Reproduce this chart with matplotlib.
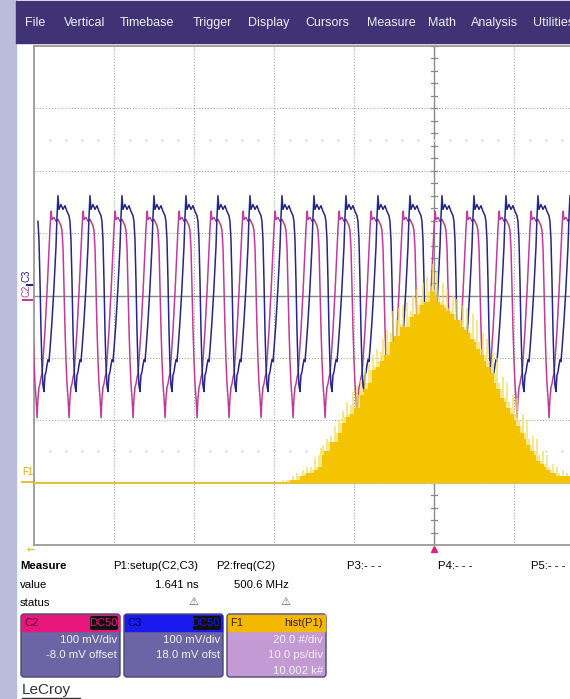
import numpy as np
import matplotlib
matplotlib.use("Agg")
import matplotlib.pyplot as plt
from matplotlib.patches import Rectangle, FancyBboxPatch

plt.rcParams['font.family'] = ['Liberation Sans', 'DejaVu Sans']

# --- scope settings ---
NS_PER_DIV = 5.0
C2_MV_PER_DIV, C2_OFFSET_MV = 100.0, -8.0
C3_MV_PER_DIV, C3_OFFSET_MV = 100.0, 18.0
HIST_COUNT_PER_DIV, HIST_PS_PER_DIV, HIST_CENTER_PS = 20.0, 10.0, 1641.0

# one period of each channel, time (ns) relative to the trough, level in mV
C2_SHAPE_T = [-0.5, -0.4375, -0.375, -0.3125, -0.25, -0.1875, -0.125, -0.0625, 0.0,
              0.0625, 0.125, 0.1875, 0.25, 0.3125, 0.375, 0.5, 0.625, 0.75, 0.8125,
              0.875, 0.9375, 1.0625, 1.1875, 1.3125, 1.4375]
C2_SHAPE_MV = [120, 111, 82, 18, -47, -98, -135, -156, -188, -156, -139, -133, -123,
               -117, -95, -47, 14, 82, 117, 143, 130, 133, 127, 130, 123]
C3_SHAPE_T = [-0.3125, -0.25, -0.1875, -0.125, -0.0625, 0.0, 0.0625, 0.125, 0.1875,
              0.25, 0.3125, 0.375, 0.4375, 0.5625, 0.6875, 0.8125, 0.875, 0.9375, 1.0,
              1.125, 1.25, 1.375, 1.5, 1.625]
C3_SHAPE_MV = [101, 72, 8, -72, -129, -162, -172, -146, -141, -130, -121, -124, -105,
               -60, -5, 59, 107, 142, 120, 128, 120, 126, 117, 110]

# trough times of each cycle (ns)
C2_TROUGHS = [-24.81, -22.81, -20.81, -18.81, -16.81, -14.81, -12.81, -10.81, -8.81,
              -6.81, -4.81, -2.81, -0.81, 1.19, 3.19, 5.19, 7.19, 9.19]
C3_TROUGHS = [-24.44, -22.44, -20.44, -18.44, -16.44, -14.44, -12.44, -10.44, -8.44,
              -6.44, -4.44, -2.44, -0.44, 1.56, 3.56, 5.56, 7.56, 9.56]

# hist(P1): setup time histogram, 0.25 ps bins
HIST_START_PS, HIST_BIN_PS = 1621.75, 0.25
HIST_COUNTS = [
    0, 1, 0, 1, 1, 1, 2, 1, 3, 2, 2, 4, 3, 5, 3, 5, 4, 8, 5, 9,
    11, 12, 10, 14, 13, 15, 13, 18, 16, 20, 19, 23, 21, 26, 22, 25, 29, 24, 31, 28,
    33, 30, 36, 32, 38, 36, 41, 37, 43, 39, 42, 46, 41, 49, 45, 48, 55, 47, 52, 56,
    51, 57, 50, 58, 53, 55, 60, 54, 62, 57, 59, 64, 58, 66, 61, 63, 70, 62, 68, 60,
    58, 64, 57, 62, 56, 55, 60, 54, 59, 52, 52, 57, 50, 56, 49, 48, 54, 46, 52, 45,
    43, 48, 41, 46, 39, 37, 42, 35, 40, 32, 30, 34, 27, 32, 26, 24, 28, 22, 27, 20,
    18, 22, 16, 20, 14, 12, 15, 10, 14, 9, 7, 10, 6, 9, 5, 4, 6, 3, 5, 3,
    2, 4, 2, 3, 2]

MENU = ["File", "Vertical", "Timebase", "Trigger", "Display", "Cursors", "Measure",
        "Math", "Analysis", "Utilities"]
MENU_X = [25, 64, 120, 193, 248, 305, 367, 428, 471, 533]

PARAMS = ["P1:setup(C2,C3)", "P2:freq(C2)", "P3:- - -", "P4:- - -", "P5:- - -"]
PARAM_X = [113, 216, 347, 438, 531]
VALUES = ["1.641 ns", "500.6 MHz"]
VALUE_X = [199, 289]

W, H = 570, 699
fig = plt.figure(figsize=(W / 100, H / 100), dpi=100)

# background layer in pixel coordinates
bg = fig.add_axes([0, 0, 1, 1])
bg.set_xlim(0, W)
bg.set_ylim(H, 0)
bg.axis('off')
bg.add_patch(Rectangle((0, 0), W, H, color='white'))
bg.add_patch(Rectangle((0, 0), 16, H, color='#b9bddb'))
bg.add_patch(Rectangle((16, 1), W - 16, 42, color='#3f3375'))
for name, x in zip(MENU, MENU_X):
    bg.text(x, 23, name, color='#eeeef6', fontsize=9, va='center', ha='left')

# graticule: 10 x 8 divisions, 80 x 62.4 px
L, T, B = 34, 46, 545
ax = fig.add_axes([L / W, 1 - B / H, 800 / W, (B - T) / H])
ax.set_xlim(-5 * NS_PER_DIV, 5 * NS_PER_DIV)
ax.set_ylim(-4, 4)
ax.set_xticks([])
ax.set_yticks([])
for s in ax.spines.values():
    s.set_color('#9a9a9a')
    s.set_linewidth(1.3)
grid_kw = dict(color='#a4a4a4', lw=0.8, ls=(0, (1, 1.6)), zorder=1)
for i in range(-4, 5):
    if i != 0:
        ax.axvline(i * NS_PER_DIV, **grid_kw)
for j in range(-3, 4):
    if j != 0:
        ax.axhline(j, **grid_kw)
ax.axvline(0, color='#8a8a8a', lw=1.0, zorder=1)
ax.axhline(0, color='#8a8a8a', lw=1.0, zorder=1)
for k in np.arange(-4, 4.01, 0.2):
    ax.plot([-0.2, 0.2], [k, k], color='#8a8a8a', lw=0.9, zorder=1)
# faint dotted rows
dots = np.arange(-24, 25, 1.0)
for yrow in (2.5, -2.5):
    ax.plot(dots, np.full_like(dots, yrow), ls='none', marker='o', ms=1.0,
            color='#e0e0e0', zorder=1)


def trace(troughs, shape_t, shape_mv, offset, scale):
    t = np.concatenate([tr + np.asarray(shape_t) for tr in troughs])
    v = np.concatenate([np.asarray(shape_mv, float) for _ in troughs])
    return t, (v + offset) / scale


t2, y2 = trace(C2_TROUGHS, C2_SHAPE_T, C2_SHAPE_MV, C2_OFFSET_MV, C2_MV_PER_DIV)
t3, y3 = trace(C3_TROUGHS, C3_SHAPE_T, C3_SHAPE_MV, C3_OFFSET_MV, C3_MV_PER_DIV)
ax.plot(t2, y2, color='#c23c96', lw=1.1, zorder=3)
ax.plot(t3, y3, color='#26268a', lw=1.1, zorder=4)

# histogram overlay on its own scale
hax = fig.add_axes(ax.get_position())
hax.patch.set_visible(False)
hax.axis('off')
hax.set_xlim(HIST_CENTER_PS - 5 * HIST_PS_PER_DIV, HIST_CENTER_PS + 5 * HIST_PS_PER_DIV)
hax.set_ylim(-1 * HIST_COUNT_PER_DIV, 7 * HIST_COUNT_PER_DIV)
counts = np.array(HIST_COUNTS, float)
edges = HIST_START_PS + HIST_BIN_PS * np.arange(len(counts) + 1)
# solid body = local minimum of neighbouring bins, taller bins show as pale spikes
padded = np.r_[counts[:2], counts, counts[-2:]]
core = np.min(np.vstack([padded[i:i + len(counts)] for i in range(5)]), axis=0)
hax.axhline(0, color='#e6c23a', lw=1.5)
hax.stairs(counts, edges, fill=True, color='#f6dc58', alpha=0.7, lw=0)
hax.stairs(core, edges, fill=True, color='#f5c400', lw=0)

# channel labels and ground markers at left
bg.text(27, 276, "C3", color='#26268a', fontsize=7, rotation=90, ha='center', va='center')
bg.text(27, 291, "C2", color='#c23c96', fontsize=7, rotation=90, ha='center', va='center')
bg.plot([27, 33], [285, 285], color='#26268a', lw=1.5)
bg.plot([23, 33], [300, 300], color='#c23c96', lw=1.5)
bg.text(22, 472, "F1", color='#e0b000', fontsize=7, ha='left', va='center')
bg.plot([22, 33], [482, 482], color='#e6c23a', lw=1.5)

# markers below the grid
bg.plot([434], [549], marker='^', ms=5, color='#e0207a', ls='none')
bg.text(31, 550, "\u2190", color='#f0b000', fontsize=7, ha='center', va='center',
        family='DejaVu Sans')

# measurement table
bg.text(20, 566, "Measure", fontsize=8.2, fontweight='bold', va='center')
for p, x in zip(PARAMS, PARAM_X):
    bg.text(x, 566, p, fontsize=8.2, va='center')
bg.text(20, 585, "value", fontsize=8.2, va='center')
for v, x in zip(VALUES, VALUE_X):
    bg.text(x, 585, v, fontsize=8.2, va='center', ha='right')
bg.text(20, 603, "status", fontsize=8.2, va='center')
for x in (193, 285):
    bg.text(x, 602, "\u26a0", fontsize=8, color='#555555', va='center', ha='center',
            family='DejaVu Sans')


def channel_box(x0, head_color, body_color, name, name_color, tag, tag_color, lines):
    x1, top, head_h, bottom = x0 + 99, 614, 16, 677
    bg.add_patch(FancyBboxPatch((x0, top), x1 - x0, bottom - top,
                                boxstyle='round,pad=0,rounding_size=3',
                                fc=body_color, ec='#4a4670', lw=1))
    bg.add_patch(Rectangle((x0 + 1, top + 1), x1 - x0 - 2, head_h, color=head_color))
    bg.text(x0 + 3, top + 9, name, color=name_color, fontsize=8, va='center')
    if tag_color is not None:
        bg.add_patch(FancyBboxPatch((x1 - 30, top + 2), 28, head_h - 2,
                                    boxstyle='round,pad=0,rounding_size=2',
                                    fc='#101010', ec='none'))
        bg.text(x1 - 3, top + 9, tag, color=tag_color, fontsize=8, va='center', ha='right')
    else:
        bg.text(x1 - 3, top + 9, tag, color=name_color, fontsize=8, va='center', ha='right')
    for i, s in enumerate(lines):
        bg.text(x1 - 3, top + 26 + 15.5 * i, s, color='#f2f2f2', fontsize=8.2,
                va='center', ha='right')


channel_box(21, '#e8157a', '#6c64a4', "C2", '#5a0030', "DC50", '#e8157a',
            ["100 mV/div", "-8.0 mV offset"])
channel_box(124, '#1a1aee', '#6c64a4', "C3", '#00005a', "DC50", '#1a1aee',
            ["100 mV/div", "18.0 mV ofst"])
channel_box(227, '#f5b800', '#c49ad4', "F1", '#3a2400', "hist(P1)", None,
            ["20.0 #/div", "10.0 ps/div", "10.002 k#"])

bg.text(22, 690, "LeCroy", fontsize=11, color='#333333', va='center', ha='left')
bg.plot([22, 80], [698, 698], color='#333333', lw=1)

fig.savefig("out.png", dpi=100)
